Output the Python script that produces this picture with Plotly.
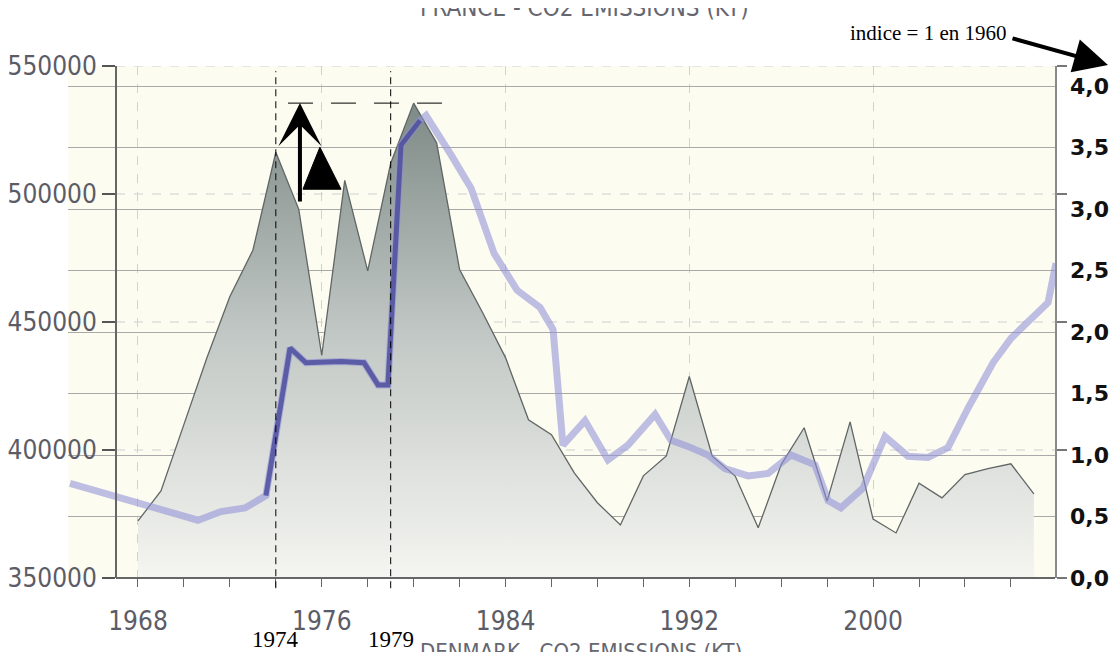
import plotly.graph_objects as go

# ---------------- data ----------------
years = list(range(1968, 2008))
france_co2 = [372300, 384000, 410000, 436000, 460000, 478000, 516300, 494000, 437000, 505300,
              470000, 512000, 535500, 520000, 470500, 453700, 436100, 411800, 406000, 391000,
              379400, 370700, 389900, 397700, 428700, 397600, 389800, 369600, 394300, 408700,
              380100, 411000, 373000, 367600, 387000, 381300, 390400, 392700, 394600, 382900]

index_years = [1965.04, 1967.04, 1968.87, 1970.61, 1971.61, 1972.66, 1973.57, 1974.62, 1975.31,
               1976.84, 1977.84, 1978.45, 1978.88, 1979.45, 1980.28, 1980.54, 1981.63, 1982.50,
               1983.50, 1984.50, 1985.50, 1986.07, 1986.50, 1987.46, 1988.46, 1989.33, 1990.51,
               1991.20, 1991.94, 1992.81, 1993.55, 1994.56, 1995.43, 1996.43, 1997.47, 1998.04,
               1998.60, 1999.56, 2000.52, 2001.52, 2002.39, 2003.26, 2004.13, 2005.22, 2006.01,
               2006.96, 2007.62, 2007.96]
index_values = [0.77, 0.66, 0.57, 0.47, 0.54, 0.57, 0.67, 1.87, 1.75,
                1.76, 1.75, 1.57, 1.57, 3.52, 3.72, 3.76, 3.44, 3.17,
                2.64, 2.34, 2.20, 2.02, 1.08, 1.28, 0.96, 1.08, 1.33,
                1.12, 1.07, 1.00, 0.89, 0.83, 0.85, 1.00, 0.92, 0.63,
                0.57, 0.73, 1.15, 0.99, 0.98, 1.06, 1.38, 1.75, 1.95,
                2.13, 2.24, 2.56]
crisis_slice = (6, 15)  # darker emphasised part (1973-1980)

label_years = [1968, 1976, 1984, 1992, 2000]
minor_years = list(range(1968, 2009, 2))
left_ticks = [350000, 400000, 450000, 500000, 550000]
right_ticks = [0, 0.5, 1, 1.5, 2, 2.5, 3, 3.5, 4]
right_labels = ["0,0", "0,5", "1,0", "1,5", "2,0", "2,5", "3,0", "3,5", "4,0"]
crisis_years = [1974, 1979]

top_title = "FRANCE - CO2 EMISSIONS (KT)"
bottom_title = "DENMARK - CO2 EMISSIONS (KT)"
index_note = "indice = 1 en 1960"

# ---------------- figure ----------------
narrow = "Liberation Sans Narrow, DejaVu Sans Condensed, Arial Narrow, sans-serif"
serif = "Liberation Serif, Times New Roman, serif"
label_grey = "#5c5c66"
yaxis_pos = 0.0486

fig = go.Figure()

fig.add_trace(go.Scatter(
    x=years, y=france_co2, mode="lines",
    line=dict(color="#5f6664", width=1.3),
    fill="tozeroy",
    fillgradient=dict(type="vertical",
                      colorscale=[[0, "#f5f5f1"], [0.5, "#c3c9c6"], [1, "#7e8a87"]],
                      start=350000, stop=max(france_co2)),
    xaxis="x", yaxis="y", hoverinfo="skip"))

fig.add_trace(go.Scatter(
    x=index_years, y=index_values, mode="lines",
    line=dict(color="rgba(145,145,215,0.58)", width=7),
    xaxis="x", yaxis="y2", hoverinfo="skip"))

a, b = crisis_slice
fig.add_trace(go.Scatter(
    x=index_years[a:b], y=index_values[a:b], mode="lines",
    line=dict(color="rgba(72,72,155,0.8)", width=5),
    xaxis="x", yaxis="y2", hoverinfo="skip"))

# invisible trace to carry the mirrored right tick axis
fig.add_trace(go.Scatter(x=[None], y=[None], xaxis="x", yaxis="y3", showlegend=False))

shapes = []
# dashed horizontal grid of the left axis
for v in left_ticks[1:]:
    shapes.append(dict(type="line", xref="paper", yref="y", x0=yaxis_pos, x1=1, y0=v, y1=v,
                       line=dict(color="#cfcfcf", width=1, dash="dash"), layer="below"))
# bottom axis line
shapes.append(dict(type="line", xref="paper", yref="paper", x0=yaxis_pos, x1=1, y0=0, y1=0,
                   line=dict(color="#666666", width=2), layer="above"))
# vertical crisis lines
for yr in crisis_years:
    shapes.append(dict(type="line", xref="x", yref="paper", x0=yr, x1=yr, y0=-0.02, y1=0.99,
                       line=dict(color="black", width=1, dash="7px,5px"), layer="above"))
# horizontal dashed line at peak level
shapes.append(dict(type="line", xref="x", yref="y", x0=1974.53, x1=1981.28,
                   y0=max(france_co2), y1=max(france_co2),
                   line=dict(color="black", width=1, dash="25px,18px"), layer="above"))
# delta triangle
shapes.append(dict(type="path", xref="x", yref="y",
                   path="M 1975.18,501860 L 1975.92,518300 L 1976.84,501860 Z",
                   fillcolor="black", line=dict(color="black", width=1), layer="above"))

annotations = [
    dict(xref="x", yref="y", x=1975.05, y=max(france_co2), ax=0, ay=100, text="",
         showarrow=True, arrowhead=3, arrowsize=1.8, arrowwidth=4, arrowcolor="black"),
    dict(xref="paper", yref="paper", x=1.0537, y=1.002, ax=-97, ay=-27, text="",
         showarrow=True, arrowhead=2, arrowsize=1.7, arrowwidth=4, arrowcolor="black"),
    dict(xref="paper", yref="paper", x=0.9524, y=1.0645, xanchor="right", yanchor="middle",
         text=index_note, showarrow=False, font=dict(family=serif, size=21, color="black")),
    dict(xref="paper", yref="paper", x=0.5238, y=1.114, xanchor="center", yanchor="middle",
         text=top_title, showarrow=False, font=dict(family=narrow, size=24, color="#666670")),
    dict(xref="paper", yref="paper", x=0.5200, y=-0.143, xanchor="center", yanchor="middle",
         text=bottom_title, showarrow=False, font=dict(family=narrow, size=22, color="#666670")),
]
for yr in crisis_years:
    annotations.append(dict(xref="x", yref="paper", x=yr, y=-0.12, text=str(yr),
                            showarrow=False, xanchor="center", yanchor="middle",
                            font=dict(family=serif, size=23, color="black")))

fig.update_layout(
    width=1117, height=652,
    margin=dict(l=60, r=70, t=58, b=82),
    paper_bgcolor="white", plot_bgcolor="#fdfcf1",
    showlegend=False,
    xaxis=dict(range=[1964.953, 2007.92], anchor="y",
               tickmode="array", tickvals=label_years, ticktext=[str(y) for y in label_years],
               ticks="outside", ticklen=8, tickcolor="#666", tickwidth=1,
               showline=False, zeroline=False,
               showgrid=True, gridcolor="#d2d2d2", griddash="dash", gridwidth=1,
               tickfont=dict(family=narrow, size=26, color=label_grey),
               ticklabelstandoff=12,
               minor=dict(tickmode="array", tickvals=minor_years, ticks="outside", ticklen=8,
                          tickcolor="#666", showgrid=False),
               automargin=False),
    yaxis=dict(range=[350000, 550000], anchor="free", position=yaxis_pos,
               tickmode="array", tickvals=left_ticks, ticktext=[str(v) for v in left_ticks],
               ticks="outside", ticklen=13, tickwidth=2, tickcolor="#555",
               showline=True, linecolor="#666", linewidth=2,
               showgrid=False, zeroline=False,
               tickfont=dict(family=narrow, size=26, color=label_grey),
               automargin=False),
    yaxis2=dict(range=[0, 4.163], overlaying="y", side="right", anchor="x",
                tickmode="array", tickvals=right_ticks, ticktext=right_labels,
                ticks="", showline=False, showgrid=True, gridcolor="#a9a9a9", gridwidth=1,
                zeroline=False,
                tickfont=dict(family="DejaVu Sans", size=22, color="#111111", weight="bold"),
                ticklabelstandoff=14, automargin=False),
    yaxis3=dict(range=[350000, 550000], overlaying="y", side="right", anchor="x",
                tickmode="array", tickvals=left_ticks, showticklabels=False,
                ticks="outside", ticklen=10, tickwidth=2, tickcolor="#777",
                showline=True, linecolor="#8a8a8a", linewidth=2,
                showgrid=False, zeroline=False, automargin=False),
    shapes=shapes,
    annotations=annotations,
)

fig.write_html("out.html")
